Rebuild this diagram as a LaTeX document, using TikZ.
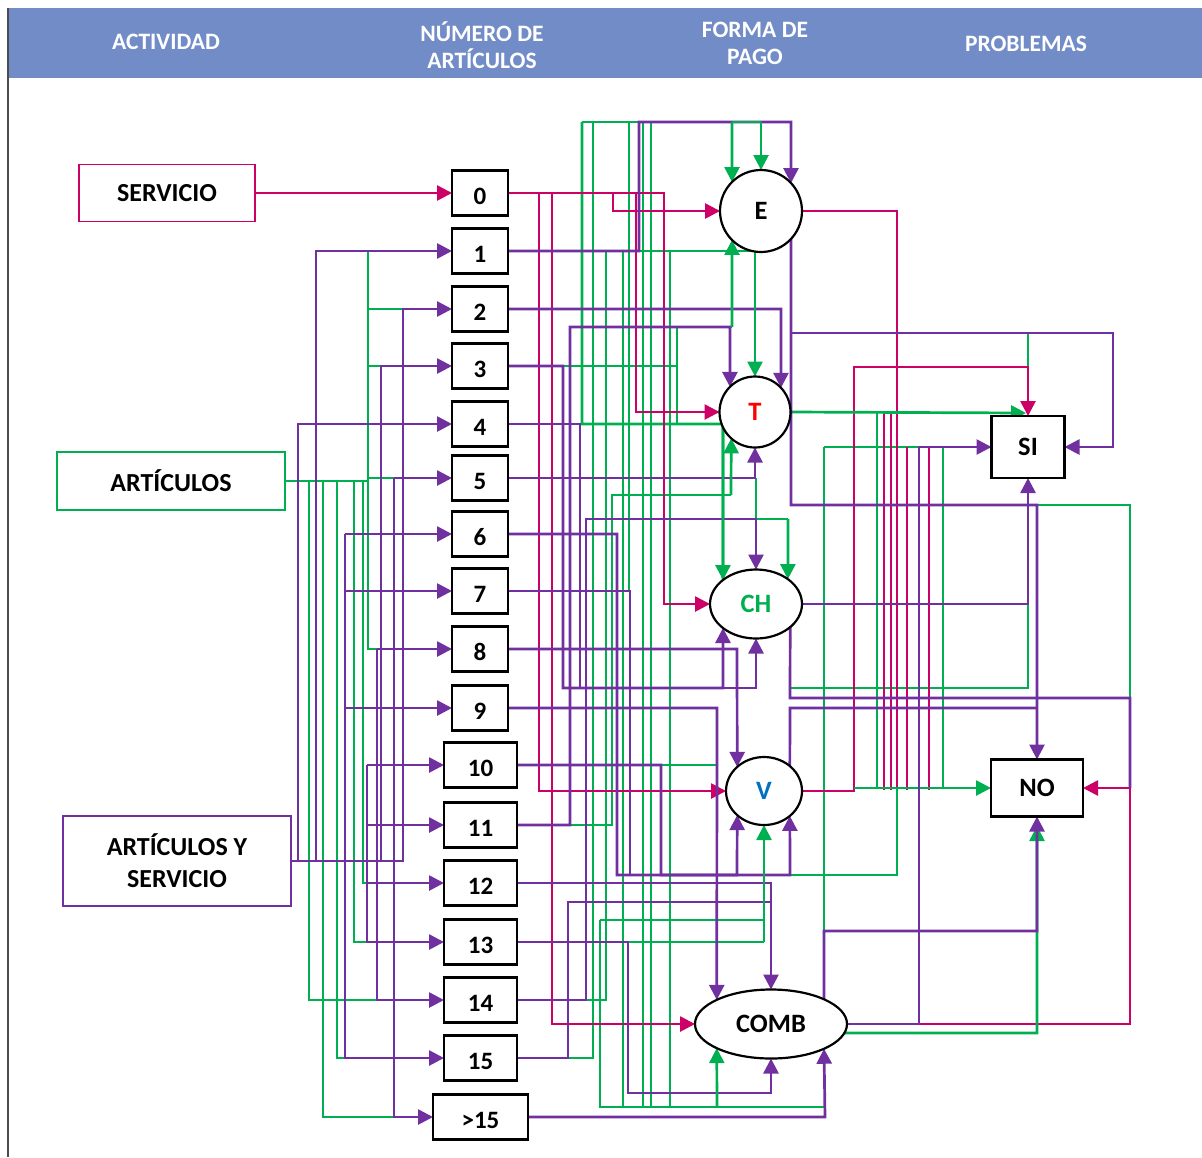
\documentclass[tikz,border=0pt]{standalone}
\usepackage{fontspec}
\setmainfont{Carlito}
\usetikzlibrary{arrows.meta,shapes.geometric}
\definecolor{magc}{RGB}{204,0,102}
\definecolor{grnc}{RGB}{0,176,80}
\definecolor{purc}{RGB}{112,48,160}
\definecolor{headc}{RGB}{114,140,200}
\definecolor{tred}{RGB}{255,0,0}
\definecolor{vblue}{RGB}{0,112,192}
\pgfdeclarelayer{bg}
\pgfsetlayers{bg,main}
\tikzset{
  wire/.style={line width=2.7pt},
  mg/.style={wire,draw=magc},
  gr/.style={wire,draw=grnc},
  pu/.style={wire,draw=purc},
  tip/.style={-{Triangle[length=15pt,width=15pt]}},
  numbox/.style={draw=black,line width=2.2pt,fill=white,minimum width=56pt,minimum height=45pt,inner sep=0pt,outer sep=0pt,text height=23pt,text depth=0pt,font=\bfseries\fontsize{25}{25}\selectfont},
  widebox/.style={numbox,minimum width=73pt},
  lblbox/.style={line width=1.8pt,fill=white,inner sep=0pt,outer sep=0pt,align=center,font=\bfseries\fontsize{26}{32}\selectfont},
  payc/.style={circle,draw=black,line width=2.2pt,fill=white,inner sep=0pt,outer sep=0pt,font=\bfseries\fontsize{26.5}{26.5}\selectfont},
  paye/.style={ellipse,draw=black,line width=2.2pt,fill=white,inner sep=0pt,outer sep=0pt,font=\bfseries\fontsize{26.5}{26.5}\selectfont},
  probbox/.style={draw=black,line width=2.2pt,fill=white,inner sep=0pt,outer sep=0pt,font=\bfseries\fontsize{26.5}{26.5}\selectfont},
  hdr/.style={text=white,align=center,font=\bfseries\fontsize{23.5}{27}\selectfont},
}
\begin{document}
\begin{tikzpicture}[x=1pt,y=-1pt]
\useasboundingbox (0,0) rectangle (1202,1157);

% ---------- activity boxes ----------
\node[lblbox,draw=magc,minimum width=176pt,minimum height=57pt] (serv) at (167,193) {SERVICIO};
\node[lblbox,draw=grnc,minimum width=228pt,minimum height=58pt] (art) at (171,481) {ARTÍCULOS};
\node[lblbox,draw=purc,minimum width=228pt,minimum height=90pt] (artserv) at (177,861) {ARTÍCULOS Y\\SERVICIO};

% ---------- number of articles ----------
\node[numbox] (n0) at (480,193) {0};
\node[numbox] (n1) at (480,251) {1};
\node[numbox] (n2) at (480,309) {2};
\node[numbox] (n3) at (480,366) {3};
\node[numbox] (n4) at (480,424) {4};
\node[numbox] (n5) at (480,478) {5};
\node[numbox] (n6) at (480,534) {6};
\node[numbox] (n7) at (480,591) {7};
\node[numbox] (n8) at (480,649) {8};
\node[numbox] (n9) at (480,708) {9};
\node[widebox] (n10) at (480.5,765) {10};
\node[widebox] (n11) at (480.5,825) {11};
\node[widebox] (n12) at (480.5,883) {12};
\node[widebox] (n13) at (480.5,942) {13};
\node[widebox] (n14) at (480.5,1000) {14};
\node[widebox] (n15) at (480.5,1058) {15};
\node[numbox,minimum width=95pt] (ngt) at (480.5,1117) {>15};

% ---------- payment forms ----------
\node[payc,minimum size=82pt] (E) at (761,211) {E};
\node[payc,minimum size=71pt,text=tred] (T) at (755,412) {T};
\node[paye,minimum width=92pt,minimum height=69pt,text=grnc] (CH) at (756,604) {CH};
\node[paye,minimum width=76pt,minimum height=68pt,text=vblue] (V) at (764,791) {V};
\node[paye,minimum width=152pt,minimum height=69pt] (COMB) at (771,1024) {COMB};

% ---------- problems ----------
\node[probbox,minimum width=73pt,minimum height=62pt] (SI) at (1028,447) {SI};
\node[probbox,minimum width=92pt,minimum height=57pt] (NO) at (1037,788) {NO};

\begin{pgfonlayer}{bg}
% header band
\fill[headc] (8,8) rectangle (1202,78);
\draw[black!70,line width=1.2pt] (8,8) -- (8,1157);
\node[hdr] (h1) at (166,42) {ACTIVIDAD};
\node[hdr] (h2) at (482,45) {NÚMERO DE\\ARTÍCULOS};
\node[hdr] (h3) at (755,43) {FORMA DE\\PAGO};
\node[hdr] (h4) at (1026,44) {PROBLEMAS};

% ===== green wires =====
% articles bus and feeders
\draw[gr] (art.east) -- (368,481);
\draw[gr] (368,481) -- (368,251);
\draw[gr] (368,309) -- (403,309);
\draw[gr] (368,366) -- (381,366);
\draw[gr] (368,478) -- (394,478);
\draw[gr] (368,481) -- (368,649) -- (377,649);
\draw[gr] (309,481) -- (309,1000) -- (377,1000);
\draw[gr] (323,481) -- (323,1117) -- (394,1117);
\draw[gr] (337,481) -- (337,1058) -- (345,1058);
\draw[gr] (354,481) -- (354,942) -- (367,942);
\draw[gr] (363,481) -- (363,883) -- (367,883);
% column of green routes
\draw[gr] (582,122) -- (761,122);
\draw[gr] (582,122) -- (582,424) -- (723,424) -- (CH.144);
\draw[gr] (568,1058) -- (593,1058) -- (593,122);
\draw[gr] (586,1000) -- (606,1000) -- (606,251) -- (755,251);
\draw[gr] (629,122) -- (629,591);
\draw[gr] (643,122) -- (643,1107);
\draw[gr] (651,122) -- (651,1107);
\draw[gr] (623,251) -- (623,1107);
\draw[gr] (670,251) -- (670,1107);
\draw[gr] (563,366) -- (677,366) -- (677,423);
\draw[gr] (677,366) -- (677,327) -- (732,327);
\draw[gr] (570,825) -- (612,825) -- (612,495) -- (731,495);
\draw[gr] (756,478) -- (756,519) -- (788,519);
\draw[gr] (628,942) -- (764,942);
\draw[gr] (661,765) -- (717,765);
\draw[gr] (600,920) -- (764,920);
\draw[gr] (600,920) -- (600,1107) -- (824,1107);
% right side green
\draw[gr] (1028,333) -- (1028,367);
\draw[gr] (877,412) -- (877,788);
\draw[gr] (824,447) -- (945,447);
\draw[gr] (943,447) -- (943,788);
\draw[gr] (824,447) -- (824,931);
\draw[gr] (790,688) -- (1028,688) -- (1028,480);
\draw[gr] (1037,505) -- (1130,505) -- (1130,698);
\draw[gr] (790,875) -- (897,875) -- (897,788);

% ===== magenta wires =====
\draw[mg,tip] (serv.east) -- (n0.west);
\draw[mg,tip] (n0.east) -- (613,193) -- (613,211) -- (E.west);
\draw[mg,tip] (613,193) -- (664,193) -- (664,604) -- (CH.west);
\draw[mg,tip] (636,193) -- (636,412) -- (T.west);
\draw[mg,tip] (539,193) -- (539,791) -- (V.west);
\draw[mg,tip] (552,193) -- (552,1024) -- (COMB.west);
\draw[mg] (E.east) -- (897,211) -- (897,788);
\draw[mg,tip] (V.east) -- (854,791) -- (854,367) -- (1028,367) -- (SI.north);
\draw[mg] (884,412) -- (884,790);
\draw[mg] (891,412) -- (891,790);
\draw[mg] (907,447) -- (907,790);
\draw[mg] (929,447) -- (929,790);
\draw[mg,tip] (COMB.east) -- (1130,1024) -- (1130,788) -- (NO.east);

% green arrows drawn over the magenta crossings
\draw[gr,tip] (T.east) -- (1026,413);
\draw[gr,tip] (854,788) -- (NO.west);
\draw[gr,tip] (COMB.-7) -- (1037,1033) -- (1037,826);

% ===== purple wires =====
\draw[pu] (artserv.east) -- (404,861);
\draw[pu,tip] (298,861) -- (298,424) -- (n4.west);
\draw[pu,tip] (316,861) -- (316,251) -- (n1.west);
\draw[pu,tip] (345,534) -- (345,1058) -- (n15.west);
\draw[pu,tip] (345,534) -- (n6.west);
\draw[pu,tip] (345,591) -- (n7.west);
\draw[pu,tip] (345,708) -- (n9.west);
\draw[pu,tip] (367,765) -- (367,942) -- (n13.west);
\draw[pu,tip] (367,765) -- (n10.west);
\draw[pu,tip] (367,825) -- (n11.west);
\draw[pu,tip] (367,883) -- (n12.west);
\draw[pu,tip] (377,649) -- (377,1000) -- (n14.west);
\draw[pu,tip] (377,649) -- (n8.west);
\draw[pu,tip] (381,861) -- (381,366) -- (n3.west);
\draw[pu,tip] (394,478) -- (394,1117) -- (ngt.west);
\draw[pu,tip] (394,478) -- (n5.west);
\draw[pu,tip] (403,861) -- (403,309) -- (n2.west);

\draw[pu,tip] (n1.east) -- (639,251) -- (639,122) -- (791,122) -- (E.43);
\draw[pu,tip] (n2.east) -- (781,309) -- (T.43);
\draw[pu,tip] (n3.east) -- (563,366) -- (563,688) -- (723,688) -- (CH.216);
\draw[pu,tip] (723,688) -- (756,688) -- (CH.south);
\draw[pu] (n4.east) -- (580,424) -- (580,688);
\draw[pu,tip] (n5.east) -- (755,478) -- (T.south);
\draw[pu,tip] (n6.east) -- (617,534) -- (617,875) -- (790,875) -- (V.-44);
\draw[pu] (n7.east) -- (630,591) -- (630,875);
\draw[pu,tip] (n8.east) -- (737,649) -- (V.138);
\draw[pu,tip] (n9.east) -- (717,708) -- (COMB.156);
\draw[pu,tip] (n10.east) -- (661,765) -- (661,875) -- (737,875) -- (V.-138);
\draw[pu,tip] (n11.east) -- (570,825) -- (570,327) -- (730,327) -- (T.135);
\draw[pu,tip] (n12.east) -- (771,883) -- (COMB.north);
\draw[pu,tip] (n13.east) -- (628,942) -- (628,1093) -- (771,1093) -- (COMB.south);
\draw[pu,tip] (n14.east) -- (586,1000) -- (586,519) -- (756,519) -- (CH.north);
\draw[pu] (n15.east) -- (568,1058) -- (568,902) -- (771,902);
\draw[pu,tip] (ngt.east) -- (825,1117) -- (COMB.-25);
% purple, payment to problems
\draw[pu,tip] (E.-43) -- (791,505) -- (1037,505) -- (NO.north);
\draw[pu,tip] (791,333) -- (1113,333) -- (1113,447) -- (SI.east);
\draw[pu,tip] (CH.east) -- (1028,604) -- (SI.south);
\draw[pu] (CH.-34) -- (790,698) -- (1130,698) -- (1130,788);
\draw[pu] (V.44) -- (790,708) -- (1037,708);
\draw[pu,tip] (COMB.east) -- (919,1024) -- (919,447) -- (SI.west);
\draw[pu,tip] (COMB.25) -- (824,931) -- (1037,931) -- (NO.south);

% ===== green arrows on top =====
\draw[gr] (732,122) -- (761,122);
\draw[gr,tip] (761,122) -- (E.north);
\draw[gr,tip] (732,122) -- (E.135);
\draw[gr,tip] (732,327) -- (E.225);
\draw[gr,tip] (755,251) -- (T.north);
\draw[gr,tip] (731,495) -- (T.228);
\draw[gr,tip] (723,424) -- (CH.144);
\draw[gr,tip] (788,519) -- (CH.38);
\draw[gr,tip] (764,942) -- (V.south);
\draw[gr,tip] (717,1107) -- (COMB.204);
\end{pgfonlayer}
\end{tikzpicture}
\end{document}
